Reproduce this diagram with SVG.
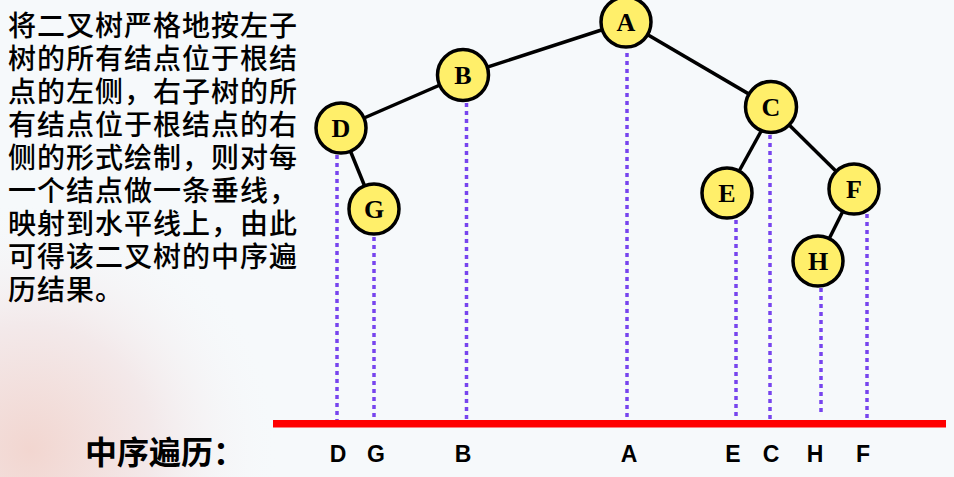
<svg xmlns="http://www.w3.org/2000/svg" width="954" height="477" viewBox="0 0 954 477">
<defs>
<radialGradient id="bg1" cx="30" cy="450" r="250" gradientUnits="userSpaceOnUse">
<stop offset="0" stop-color="#f2d6d0"/>
<stop offset="0.5" stop-color="#f3e9ea"/>
<stop offset="1" stop-color="#f6f9fb" stop-opacity="0"/>
</radialGradient>
<style>
.bg{fill:#f6f9fb}
.edge{stroke:#000;stroke-width:3.5;fill:none}
.dot{stroke:#7744ee;stroke-width:3.5;stroke-dasharray:4 4;fill:none}
.node circle{fill:#ffef6a;stroke:#000;stroke-width:3.5}
.node text{font-family:"Liberation Serif","Times New Roman",serif;font-weight:bold;font-size:26px;text-anchor:middle;fill:#000}
.desc{font-family:"Noto Sans CJK SC","Noto Sans CJK JP",sans-serif;font-size:28px;letter-spacing:1px;font-weight:500;fill:#000}
.lbl{font-family:"Liberation Sans",Arial,sans-serif;font-weight:bold;font-size:23px;text-anchor:middle;fill:#000}
.title{font-family:"Noto Sans CJK SC",sans-serif;font-weight:bold;font-size:32px;fill:#000}
</style>
</defs>
<rect class="bg" x="0" y="0" width="954" height="477"/>
<rect x="0" y="200" width="300" height="277" fill="url(#bg1)"/>

<g id="description" class="desc">
<text x="8" y="36">将二叉树严格地按左子</text>
<text x="8" y="69">树的所有结点位于根结</text>
<text x="8" y="102">点的左侧，右子树的所</text>
<text x="8" y="135">有结点位于根结点的右</text>
<text x="8" y="168">侧的形式绘制，则对每</text>
<text x="8" y="201">一个结点做一条垂线，</text>
<text x="8" y="234">映射到水平线上，由此</text>
<text x="8" y="267">可得该二叉树的中序遍</text>
<text x="8" y="300">历结果。</text>
</g>

<g id="projections">
<line class="dot" x1="337" y1="155" x2="337" y2="420"/>
<line class="dot" x1="374" y1="237" x2="374" y2="420"/>
<line class="dot" x1="466.5" y1="103" x2="466.5" y2="420"/>
<line class="dot" x1="627" y1="53" x2="627" y2="420"/>
<line class="dot" x1="736" y1="220" x2="736" y2="420"/>
<line class="dot" x1="770" y1="135" x2="770" y2="420"/>
<line class="dot" x1="821" y1="288" x2="821" y2="414"/>
<line class="dot" x1="867" y1="214" x2="867" y2="420"/>
</g>

<g id="baseline">
<rect x="273" y="420" width="673" height="7.5" fill="#ff0000"/>
</g>

<g id="connectors">
<line class="edge" x1="626" y1="22" x2="463" y2="75"/>
<line class="edge" x1="463" y1="75" x2="341" y2="128"/>
<line class="edge" x1="341" y1="128" x2="374" y2="209"/>
<line class="edge" x1="626" y1="22" x2="771" y2="107"/>
<line class="edge" x1="764" y1="126" x2="727" y2="193"/>
<line class="edge" x1="771" y1="107" x2="854" y2="189"/>
<line class="edge" x1="854" y1="189" x2="818" y2="261"/>
</g>

<g id="node-A" class="node"><circle cx="626" cy="22" r="25"/><text x="626" y="31">A</text></g>
<g id="node-B" class="node"><circle cx="463" cy="75" r="25.5"/><text x="463" y="84">B</text></g>
<g id="node-D" class="node"><circle cx="341" cy="128" r="25"/><text x="341" y="137">D</text></g>
<g id="node-G" class="node"><circle cx="374" cy="209" r="25"/><text x="374" y="218">G</text></g>
<g id="node-C" class="node"><circle cx="771" cy="107" r="25.5"/><text x="771" y="116">C</text></g>
<g id="node-E" class="node"><circle cx="727" cy="193" r="25"/><text x="727" y="202">E</text></g>
<g id="node-F" class="node"><circle cx="854" cy="189" r="25"/><text x="854" y="198">F</text></g>
<g id="node-H" class="node"><circle cx="818" cy="261" r="25"/><text x="818" y="270">H</text></g>

<g id="result">
<text class="title" x="85" y="464">中序遍历：</text>
<text class="lbl" x="338" y="462">D</text>
<text class="lbl" x="376" y="462">G</text>
<text class="lbl" x="463" y="462">B</text>
<text class="lbl" x="629" y="462">A</text>
<text class="lbl" x="733" y="462">E</text>
<text class="lbl" x="771" y="462">C</text>
<text class="lbl" x="815" y="462">H</text>
<text class="lbl" x="863" y="462">F</text>
</g>
</svg>
